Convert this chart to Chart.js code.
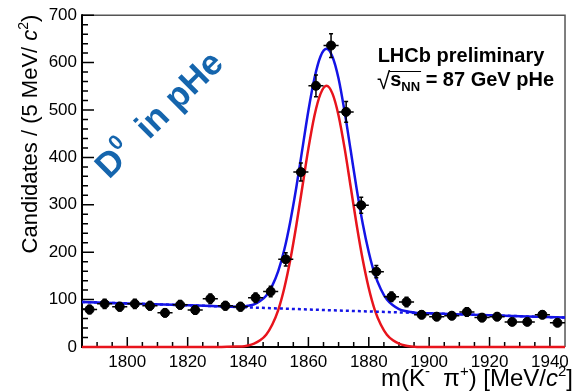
<!DOCTYPE html>
<html>
<head>
<meta charset="utf-8">
<script src="https://cdn.jsdelivr.net/npm/chart.js@4.4.1/dist/chart.umd.min.js"></script>
<style>
html, body { margin: 0; padding: 0; background: #fff; }
#wrap { width: 574px; height: 391px; }
</style>
</head>
<body>
<div id="wrap"><canvas id="massPlot" width="574" height="391"></canvas></div>
<script>
// 5 MeV bins, centres in MeV/c2
var massBins = [1787.5, 1792.5, 1797.5, 1802.5, 1807.5, 1812.5, 1817.5, 1822.5,
                1827.5, 1832.5, 1837.5, 1842.5, 1847.5, 1852.5, 1857.5, 1862.5,
                1867.5, 1872.5, 1877.5, 1882.5, 1887.5, 1892.5, 1897.5, 1902.5,
                1907.5, 1912.5, 1917.5, 1922.5, 1927.5, 1932.5, 1937.5, 1942.5];
var candidates = [79, 91, 85, 91, 87, 72, 89, 78, 102, 87, 85, 104, 117, 185, 369, 551,
                  636, 496, 299, 159, 106, 95, 68, 64, 66, 74, 62, 64, 53, 53, 68, 51];
var candErr = [9, 10, 9, 10, 9, 8, 9, 9, 10, 9, 9, 10, 11, 14, 19, 23,
               25, 22, 17, 13, 10, 10, 8, 8, 8, 9, 8, 8, 7, 7, 8, 7];
var binHalf = 2.5;

// fit curves
var curveMass = [1785, 1800, 1820, 1830, 1836, 1838, 1840, 1842, 1844, 1846, 1848, 1850,
                 1852, 1854, 1856, 1858, 1860, 1862, 1864, 1866, 1868, 1870, 1872, 1874,
                 1876, 1878, 1880, 1882, 1884, 1886, 1888, 1890, 1892, 1894, 1896, 1900,
                 1920, 1945];
var signalFit = [0, 0, 0, 0, 1, 1, 3, 7, 14, 26, 47, 78,
                 124, 184, 257, 338, 419, 488, 534, 551, 534, 488, 419, 338,
                 257, 184, 124, 78, 47, 26, 14, 7, 3, 1, 0, 0,
                 0, 0];
var totalFit = [95, 92, 88, 86, 85, 85, 87, 90, 97, 108, 129, 160,
                205, 265, 337, 418, 499, 567, 613, 629, 612, 566, 496, 415,
                333, 260, 200, 153, 122, 100, 88, 80, 76, 74, 72, 71,
                67, 62];
var bkgMass = [1785, 1825, 1865, 1905, 1945];
var bkgFit = [95, 87, 78, 70, 62];

var xTicks = [1800, 1820, 1840, 1860, 1880, 1900, 1920, 1940];
var yTicks = [0, 100, 200, 300, 400, 500, 600, 700];

var FONT = "'Liberation Sans', Arial, Helvetica, sans-serif";

function pts(xs, ys) {
    return xs.map(function (x, i) { return { x: x, y: ys[i] }; });
}

// draw a run of text pieces one after another
function drawRun(ctx, x, y, pieces) {
    pieces.forEach(function (p) {
        ctx.font = p.font;
        ctx.fillText(p.t, x, y + (p.dy || 0));
        x += ctx.measureText(p.t).width;
    });
    return x;
}
function runWidth(ctx, pieces) {
    var w = 0;
    pieces.forEach(function (p) { ctx.font = p.font; w += ctx.measureText(p.t).width; });
    return w;
}

var histoPlugin = {
    id: 'histo',
    beforeDatasetsDraw: function (chart) {
        var ctx = chart.ctx, a = chart.chartArea;
        var xs = chart.scales.x, ys = chart.scales.y;
        ctx.save();
        // frame
        ctx.strokeStyle = '#555';
        ctx.lineWidth = 1.5;
        ctx.beginPath();
        ctx.moveTo(a.left, a.top); ctx.lineTo(a.right, a.top); ctx.lineTo(a.right, a.bottom);
        ctx.stroke();
        ctx.strokeStyle = '#000';
        ctx.lineWidth = 2;
        ctx.beginPath();
        ctx.moveTo(a.left, a.top - 1); ctx.lineTo(a.left, a.bottom); ctx.lineTo(a.right, a.bottom);
        ctx.stroke();
        // inward ticks
        ctx.lineWidth = 1.5;
        ctx.beginPath();
        for (var v = 0; v <= 700; v += 20) {
            var py = ys.getPixelForValue(v);
            var len = (v % 100 === 0) ? 12 : 6;
            ctx.moveTo(a.left, py); ctx.lineTo(a.left + len, py);
        }
        for (var m = 1790; m < 1945; m += 5) {
            var px = xs.getPixelForValue(m);
            var l2 = (m % 20 === 0) ? 10 : 5;
            ctx.moveTo(px, a.bottom); ctx.lineTo(px, a.bottom - l2);
        }
        ctx.stroke();
        ctx.restore();
    },
    afterDatasetsDraw: function (chart) {
        var ctx = chart.ctx;
        var xs = chart.scales.x, ys = chart.scales.y;
        ctx.save();
        ctx.strokeStyle = '#000';
        ctx.lineWidth = 1.5;
        ctx.beginPath();
        massBins.forEach(function (m, i) {
            var px = xs.getPixelForValue(m), py = ys.getPixelForValue(candidates[i]);
            var x0 = xs.getPixelForValue(m - binHalf), x1 = xs.getPixelForValue(m + binHalf);
            var y0 = ys.getPixelForValue(candidates[i] - candErr[i]);
            var y1 = ys.getPixelForValue(candidates[i] + candErr[i]);
            ctx.moveTo(x0, py); ctx.lineTo(x1, py);
            ctx.moveTo(px, y0); ctx.lineTo(px, y1);
            ctx.moveTo(px - 2, y0); ctx.lineTo(px + 2, y0);
            ctx.moveTo(px - 2, y1); ctx.lineTo(px + 2, y1);
        });
        ctx.stroke();
        ctx.restore();
    },
    afterDraw: function (chart) {
        var ctx = chart.ctx;
        ctx.save();
        ctx.fillStyle = '#000';
        ctx.textBaseline = 'alphabetic';

        // y title
        var big = '22px ' + FONT, it = 'italic 22px ' + FONT, sup = '14px ' + FONT;
        var yt = [{ t: 'Candidates / (5 MeV/ ', font: big }, { t: 'c', font: it },
                  { t: '2', font: sup, dy: -9 }, { t: ')', font: big }];
        ctx.save();
        ctx.translate(37, 134);
        ctx.rotate(-Math.PI / 2);
        drawRun(ctx, -runWidth(ctx, yt) / 2, 0, yt);
        ctx.restore();

        // x title
        var xb = '24px ' + FONT, xi = 'italic 24px ' + FONT, xsup = '15px ' + FONT;
        var xt = [{ t: 'm(K', font: xb }, { t: '-', font: xsup, dy: -10 }, { t: '  \u03c0', font: xb },
                  { t: '+', font: xsup, dy: -10 }, { t: ') [MeV/', font: xb }, { t: 'c', font: xi },
                  { t: '2', font: xsup, dy: -10 }, { t: ']', font: xb }];
        drawRun(ctx, 573 - runWidth(ctx, xt), 386, xt);

        // LHCb label
        ctx.font = 'bold 20px ' + FONT;
        ctx.textAlign = 'center';
        ctx.fillText('LHCb preliminary', 461, 62);
        ctx.textAlign = 'left';
        var bb = 'bold 20px ' + FONT, bs = 'bold 13px ' + FONT;
        var x0 = 377;
        ctx.font = '24px ' + FONT;
        ctx.fillText('\u221a', x0, 89);
        var sx = x0 + ctx.measureText('\u221a').width - 1;
        var ex = drawRun(ctx, sx + 1, 86, [{ t: 's', font: bb }, { t: 'NN', font: bs, dy: 5 }]);
        ctx.lineWidth = 1.2;
        ctx.beginPath(); ctx.moveTo(sx, 71.5); ctx.lineTo(ex + 1, 71.5); ctx.stroke();
        drawRun(ctx, ex, 86, [{ t: ' = 87 GeV pHe', font: bb }]);

        // rotated D0 label
        ctx.fillStyle = '#1565ad';
        ctx.save();
        ctx.translate(109, 180);
        ctx.rotate(-0.78);
        drawRun(ctx, 0, 0, [{ t: 'D', font: 'bold 35px ' + FONT }, { t: '0', font: 'bold 21px ' + FONT, dy: -15 },
                            { t: '  in pHe', font: 'bold 35px ' + FONT }]);
        ctx.restore();
        ctx.restore();
    }
};

var ctx = document.getElementById('massPlot');
new Chart(ctx, {
    type: 'scatter',
    data: {
        datasets: [
            {
                label: 'data',
                data: pts(massBins, candidates),
                pointRadius: 4.5,
                pointBackgroundColor: '#000',
                pointBorderColor: '#000',
                showLine: false,
                order: 0
            },
            {
                label: 'total fit',
                data: pts(curveMass, totalFit),
                showLine: true,
                borderColor: '#1414e6',
                borderWidth: 2.5,
                pointRadius: 0,
                cubicInterpolationMode: 'monotone',
                order: 1
            },
            {
                label: 'background',
                data: pts(bkgMass, bkgFit),
                showLine: true,
                borderColor: '#1414e6',
                borderWidth: 2.5,
                borderDash: [3, 3],
                pointRadius: 0,
                order: 2
            },
            {
                label: 'signal',
                data: pts(curveMass, signalFit),
                showLine: true,
                borderColor: '#e8141c',
                borderWidth: 2.5,
                pointRadius: 0,
                cubicInterpolationMode: 'monotone',
                clip: { left: 0, top: 0, right: 0, bottom: 3 },
                order: 3
            }
        ]
    },
    options: {
        responsive: false,
        animation: false,
        devicePixelRatio: 1,
        layout: { padding: { top: 15, right: 2.5, left: 0, bottom: 0 } },
        plugins: {
            legend: { display: false },
            tooltip: { enabled: false }
        },
        scales: {
            x: {
                type: 'linear',
                min: 1785,
                max: 1945,
                afterFit: function (s) { s.height = 44; },
                afterBuildTicks: function (s) { s.ticks = xTicks.map(function (v) { return { value: v }; }); },
                grid: { display: false, drawTicks: false },
                border: { display: false },
                ticks: {
                    color: '#000', padding: 5, maxRotation: 0, autoSkip: false,
                    font: { family: FONT, size: 17 },
                    callback: function (v) { return String(v); }
                }
            },
            y: {
                min: 0,
                max: 700,
                afterFit: function (s) { s.width = 82; },
                afterBuildTicks: function (s) { s.ticks = yTicks.map(function (v) { return { value: v }; }); },
                grid: { display: false, drawTicks: false },
                border: { display: false },
                ticks: { color: '#000', padding: 5, font: { family: FONT, size: 17 } }
            }
        }
    },
    plugins: [histoPlugin]
});
</script>
</body>
</html>
